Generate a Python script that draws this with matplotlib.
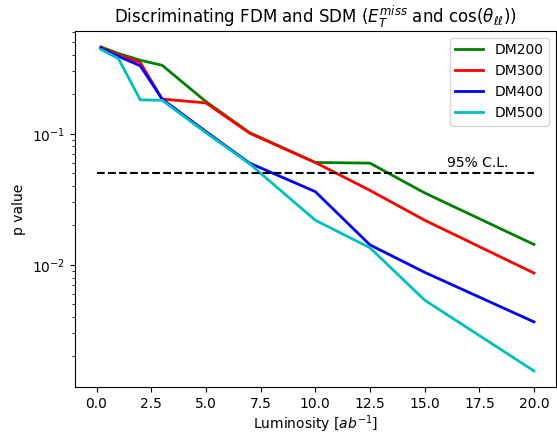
import matplotlib
matplotlib.use("Agg")
import matplotlib.pyplot as plt

lumi = [0.2, 1, 2, 3, 5, 7, 10, 12.5, 15, 20]

dm200 = [0.46, 0.41, 0.364, 0.333, 0.176, 0.102, 0.0604, 0.0597, 0.0354, 0.0143]
dm300 = [0.455, 0.40, 0.35, 0.184, 0.172, 0.101, 0.0604, 0.037, 0.0219, 0.00865]
dm400 = [0.45, 0.39, 0.33, 0.184, 0.104, 0.0597, 0.0362, 0.0142, 0.00877, 0.00367]
dm500 = [0.44, 0.375, 0.1815, 0.18, 0.102, 0.059, 0.0219, 0.0135, 0.00538, 0.00155]

CL_LEVEL = 0.05


def main():
    fig = plt.figure(figsize=(5.57, 4.36), dpi=100)
    ax = fig.add_subplot(111)
    fig.subplots_adjust(left=0.134, right=0.998, top=0.9296, bottom=0.112)

    ax.plot(lumi, dm200, color='g', lw=2, label='DM200')
    ax.plot(lumi, dm300, color='r', lw=2, label='DM300')
    ax.plot(lumi, dm400, color='b', lw=2, label='DM400')
    ax.plot(lumi, dm500, color='c', lw=2, label='DM500')
    ax.hlines(CL_LEVEL, 0, 20, colors='k', linestyles='dashed', lw=1.5)
    ax.text(16, 0.056, '95% C.L.', fontsize=10)

    ax.set_yscale('log')
    ax.set_xlim(-1, 21)
    ax.set_xlabel(r'Luminosity [$ab^{-1}$]', labelpad=2)
    ax.set_ylabel('p value')
    ax.set_title(r'Discriminating FDM and SDM ($E_T^{miss}$ and $\cos(\theta_{\ell\ell})$)')
    ax.legend(loc='upper right')

    fig.savefig('out.png', dpi=100)


if __name__ == "__main__":
    main()
